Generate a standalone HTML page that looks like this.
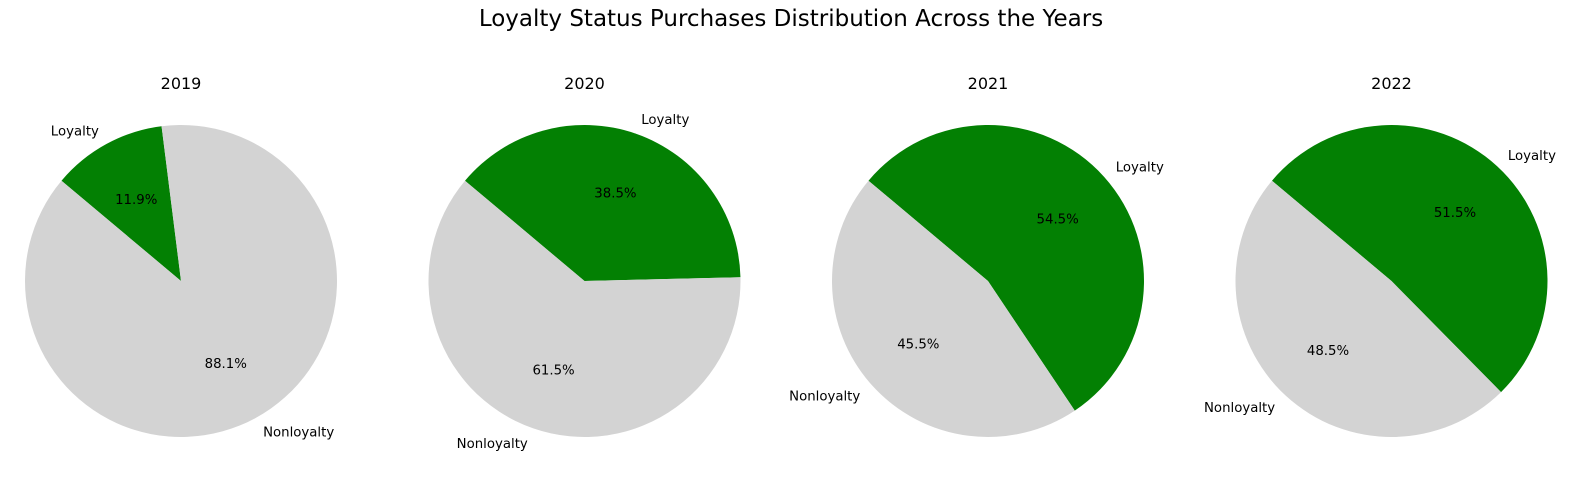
<!DOCTYPE html>
<html><head><meta charset="utf-8"><style>
body{margin:0;background:#fff;}
svg{display:block;font-family:"DejaVu Sans","Liberation Sans",sans-serif;}
</style></head><body>
<svg id="chart" width="1582" height="480" viewBox="0 0 1582 480">
<text x="791" y="26" font-size="23" text-anchor="middle" fill="#000">Loyalty Status Purchases Distribution Across the Years</text>
</svg>
<script>
const years = ['2019','2020','2021','2022'];
const loyaltyPct = [11.9, 38.5, 54.5, 51.5];
const nonloyaltyPct = [88.1, 61.5, 45.5, 48.5];
const sliceLabels = ['Loyalty','Nonloyalty'];
const sliceColors = ['#038003','#d3d3d3'];

const svg = document.getElementById('chart');
const NS = 'http://www.w3.org/2000/svg';
const R = 156, CY = 281, X0 = 181, DX = 403.5, START = 140;
function pt(cx, ang, r){ const a = ang*Math.PI/180; return [cx + r*Math.cos(a), CY - r*Math.sin(a)]; }
years.forEach((yr, i) => {
  const cx = X0 + i*DX;
  const g = document.createElementNS(NS,'g');
  
  
  svg.appendChild(g);
  const t = document.createElementNS(NS,'text');
  t.setAttribute('x', cx); t.setAttribute('y', 89); t.setAttribute('font-size', '16');
  t.setAttribute('text-anchor', 'middle'); t.textContent = yr;
  
  
  g.appendChild(t);
  const vals = [loyaltyPct[i], nonloyaltyPct[i]];
  const tot = vals[0] + vals[1];
  let ang = START;
  vals.forEach((v, j) => {
    const sweep = v / tot * 360;
    const a2 = ang - sweep;
    const p1 = pt(cx, ang, R), p2 = pt(cx, a2, R);
    const large = sweep > 180 ? 1 : 0;
    const path = document.createElementNS(NS,'path');
    path.setAttribute('d', `M${cx},${CY} L${p1[0]},${p1[1]} A${R},${R} 0 ${large} 1 ${p2[0]},${p2[1]} Z`);
    path.setAttribute('fill', sliceColors[j]);
    
    
    g.appendChild(path);
    const mid = ang - sweep/2;
    const lp = pt(cx, mid, R*1.1);
    const lab = document.createElementNS(NS,'text');
    lab.setAttribute('x', lp[0]); lab.setAttribute('y', lp[1] + 5);
    lab.setAttribute('font-size', '13.3');
    lab.setAttribute('text-anchor', Math.cos(mid*Math.PI/180) >= 0 ? 'start' : 'end');
    lab.textContent = sliceLabels[j];
    
    
    g.appendChild(lab);
    const pp = pt(cx, mid, R*0.6);
    const pc = document.createElementNS(NS,'text');
    pc.setAttribute('x', pp[0]); pc.setAttribute('y', pp[1] + 5);
    pc.setAttribute('font-size', '13.3');
    pc.setAttribute('text-anchor', 'middle');
    pc.textContent = v.toFixed(1) + '%';
    
    
    g.appendChild(pc);
    ang = a2;
  });
});
</script>
</body></html>
